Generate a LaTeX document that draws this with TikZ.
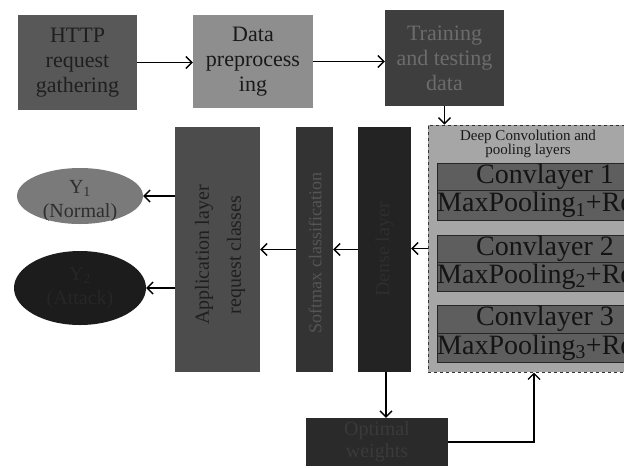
\documentclass[tikz,border=0pt]{standalone}
\usepackage{fontspec}
\setmainfont{Liberation Serif}
\usetikzlibrary{arrows.meta,shapes.geometric}
\definecolor{httpfill}{HTML}{585858}
\definecolor{datafill}{HTML}{8E8E8E}
\definecolor{trainfill}{HTML}{3E3E3E}
\definecolor{traintext}{HTML}{6C6C6C}
\definecolor{deepfill}{HTML}{A6A6A6}
\definecolor{rowfill}{HTML}{5E5E5E}
\definecolor{densefill}{HTML}{232323}
\definecolor{densetext}{HTML}{2E2E2E}
\definecolor{softfill}{HTML}{333333}
\definecolor{softtext}{HTML}{555555}
\definecolor{appfill}{HTML}{4C4C4C}
\definecolor{y1fill}{HTML}{7A7A7A}
\definecolor{y2fill}{HTML}{1C1C1C}
\definecolor{y2text}{HTML}{262626}
\definecolor{optfill}{HTML}{2A2A2A}
\definecolor{opttext}{HTML}{3A3A3A}
\tikzset{
  blk/.style={draw=none, rectangle, inner sep=0pt, align=center},
  rowbox/.style={draw=black!85, line width=1pt, fill=rowfill, rectangle, inner sep=0pt, minimum width=203pt},
  conn/.style={line width=1.6pt, -{Straight Barb[length=6pt,width=12pt,line width=1.4pt]}},
  topfont/.style={font=\fontsize{22}{25}\selectfont},
  rowfont/.style={font=\fontsize{28}{30}\selectfont},
}
\begin{document}
\begin{tikzpicture}[x=1pt,y=-1pt]
\useasboundingbox[fill=white] (0,0) rectangle (624,467);

% top row
\node[blk, fill=httpfill, minimum width=119pt, minimum height=95pt, topfont, text=black!88] (http) at (77.5,62.5) {HTTP\\request\\gathering};
\node[blk, fill=datafill, minimum width=120pt, minimum height=93pt, topfont, text=black!90] (data) at (253,61.5) {Data\\preprocess\\ing};
\node[blk, fill=trainfill, minimum width=119pt, minimum height=96pt, topfont, text=traintext] (train) at (444.5,58) {Training\\and testing\\data};

% deep block
\node[blk, fill=deepfill, draw=black!80, dashed, line width=1pt, minimum width=212pt, minimum height=247pt] (deep) at (534,248.5) {};
\node[blk, font=\fontsize{15}{14}\selectfont, text=black!90] (deeptitle) at (528,144) {Deep Convolution and\\pooling layers};

\node[rowbox, minimum height=27pt] (c1a) at (538.5,176.5) {};
\node[rowbox, minimum height=30pt] (c1b) at (538.5,205) {};
\node[rowbox, minimum height=27pt] (c2a) at (538.5,248.5) {};
\node[rowbox, minimum height=29pt] (c2b) at (538.5,276.5) {};
\node[rowbox, minimum height=28pt] (c3a) at (538.5,319) {};
\node[rowbox, minimum height=29pt] (c3b) at (538.5,347.5) {};
\node[rowfont, text=black!92, inner sep=0pt] (t1a) at (545,176.5) {Convlayer 1};
\node[rowfont, text=black!92, inner sep=0pt, anchor=west] (t1b) at (437,205) {MaxPooling\textsubscript{1}+Relu};
\node[rowfont, text=black!92, inner sep=0pt] (t2a) at (545,248.5) {Convlayer 2};
\node[rowfont, text=black!92, inner sep=0pt, anchor=west] (t2b) at (437,276.5) {MaxPooling\textsubscript{2}+Relu};
\node[rowfont, text=black!92, inner sep=0pt] (t3a) at (545,319) {Convlayer 3};
\node[rowfont, text=black!92, inner sep=0pt, anchor=west] (t3b) at (437,347.5) {MaxPooling\textsubscript{3}+Relu};

% vertical bars
\node[blk, fill=densefill, minimum width=53pt, minimum height=245pt] (dense) at (384.5,249.5) {};
\node[rotate=90, font=\fontsize{20}{22}\selectfont, text=densetext] (densetxt) at (384.5,249.5) {Dense layer};
\node[blk, fill=softfill, minimum width=37pt, minimum height=245pt] (soft) at (314.5,249.5) {};
\node[rotate=90, font=\fontsize{18}{20}\selectfont, text=softtext] (softtxt) at (315,253) {Softmax classification};
\node[blk, fill=appfill, minimum width=85pt, minimum height=245pt] (app) at (217.5,249.5) {};
\node[rotate=90, align=center, font=\fontsize{20}{32}\selectfont, text=black!88] (apptxt) at (220,255) {Application layer\\request classes};

% outputs
\node[ellipse, fill=y1fill, minimum width=126pt, minimum height=56pt, inner sep=0pt] (y1) at (80,196) {};
\begin{scope}
\clip (80,196) ellipse [x radius=63pt, y radius=28pt];
\node[align=center, font=\fontsize{20}{24}\selectfont, text=black!82] (y1txt) at (80,201) {Y\textsubscript{1}\\(Normal)};
\end{scope}
\node[ellipse, fill=y2fill, minimum width=132pt, minimum height=74pt, inner sep=0pt, align=center, font=\fontsize{20}{24}\selectfont, text=y2text] (y2) at (80,288) {Y\textsubscript{2}\\(Attack)};

% optimal
\node[blk, fill=optfill, minimum width=142pt, minimum height=48pt, font=\fontsize{20}{22}\selectfont, text=opttext] (opt) at (377,442) {Optimal\\weights};

% connectors
\draw[conn] (http.east) -- (http.east -| data.west);
\draw[conn] (data.east) -- (data.east -| train.west);
\draw[conn] (train.south) -- (train.south |- deep.north);
\draw[conn] (deep.west) -- (deep.west -| dense.east);
\draw[conn] (dense.west) -- (dense.west -| soft.east);
\draw[conn] (soft.west) -- (soft.west -| app.east);
\draw[conn] (app.west |- y1.east) -- (y1.east);
\draw[conn] (app.west |- y2.east) -- (y2.east);
\draw[conn] ([xshift=1.5pt]dense.south) -- ([xshift=1.5pt]dense.south |- opt.north);
\draw[conn] (opt.east) -| (deep.south);
\end{tikzpicture}
\end{document}
